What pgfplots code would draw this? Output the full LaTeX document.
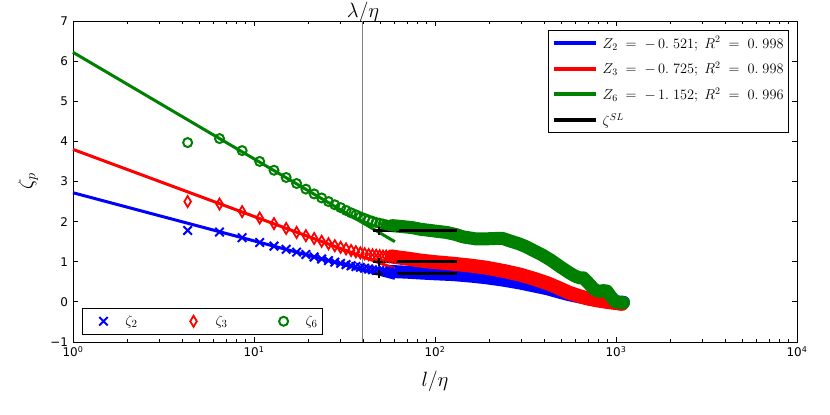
\documentclass[border=0pt]{standalone}
\usepackage{fontspec}
\setmainfont{DejaVu Sans}
\usepackage{pgfplots}
\usepackage{pgfplotstable}
\pgfplotsset{compat=1.18}
\definecolor{mplgreen}{rgb}{0,0.5,0}

\pgfplotstableread{
l z2 z3 z6
4.3   1.78 2.50 3.97
6.45  1.74 2.44 4.07
8.6   1.60 2.25 3.77
10.75 1.48 2.09 3.50
12.9  1.39 1.95 3.28
15.05 1.31 1.83 3.10
17.2  1.24 1.73 2.95
19.35 1.18 1.65 2.81
21.5  1.12 1.58 2.69
23.65 1.07 1.51 2.59
25.8  1.03 1.45 2.50
27.95 0.99 1.40 2.42
30.1  0.96 1.36 2.35
32.25 0.93 1.32 2.28
34.4  0.90 1.28 2.22
36.55 0.88 1.25 2.17
38.7  0.86 1.22 2.12
40.85 0.84 1.20 2.08
43.0  0.82 1.18 2.04
45.15 0.80 1.17 2.01
47.3  0.79 1.16 1.98
49.45 0.78 1.15 1.96
51.6  0.77 1.14 1.94
53.75 0.76 1.14 1.92
55.9  0.75 1.13 1.90
58.05 0.74 1.13 1.89
60.2  0.73 1.12 1.88
}\markers

\pgfplotstableread{
l z
58 0.76
62 0.75
70 0.74
83 0.72
100 0.70
126 0.68
160 0.64
193 0.60
240 0.54
295 0.47
350 0.40
415 0.33
480 0.25
550 0.18
620 0.13
690 0.09
780 0.05
890 0.02
1000 0.00
1100 -0.01
}\bandtwo

\pgfplotstableread{
l z
58 1.13
62 1.11
70 1.08
83 1.03
100 0.99
126 0.95
160 0.90
193 0.85
240 0.77
295 0.68
350 0.58
415 0.47
480 0.35
550 0.23
620 0.15
690 0.09
780 0.04
890 0.00
1000 -0.03
1080 -0.05
}\bandthree

\pgfplotstableread{
l z
58 1.90
65 1.88
75 1.85
83 1.81
94 1.78
102 1.76
116 1.73
130 1.68
143 1.62
168 1.57
190 1.57
215 1.58
237 1.58
259 1.52
290 1.45
317 1.38
350 1.28
391 1.17
440 1.03
490 0.88
550 0.73
595 0.64
630 0.60
660 0.60
700 0.48
755 0.32
800 0.26
850 0.28
890 0.27
930 0.15
990 0.01
1050 -0.02
1100 -0.02
}\bandsix

\begin{document}
\begin{tikzpicture}
\begin{axis}[
  at={(73bp,73bp)}, anchor=south west,
  scale only axis, width=724bp, height=321bp,
  xmode=log, xmin=1, xmax=10000, ymin=-1, ymax=7,
  clip=false,
  xtick={1,10,100,1000,10000},
  xticklabels={10\textsuperscript{0},10\textsuperscript{1},10\textsuperscript{2},10\textsuperscript{3},10\textsuperscript{4}},
  minor xtick={2,3,4,5,6,7,8,9,20,30,40,50,60,70,80,90,200,300,400,500,600,700,800,900,2000,3000,4000,5000,6000,7000,8000,9000},
  ytick={-1,0,1,2,3,4,5,6,7},
  yticklabels={−1,0,1,2,3,4,5,6,7},
  tick align=inside,
  major tick length=5bp, minor tick length=3bp,
  every tick/.style={black, line width=0.8bp},
  axis line style={line width=1bp},
  tick label style={font=\fontsize{12}{14}\selectfont},
  yticklabel style={xshift=-1.5bp},
  xticklabel style={yshift=-1bp},
  xlabel={$l/\eta$}, ylabel={$\zeta_p$},
  xlabel style={font=\fontsize{22}{26}\selectfont, at={(axis description cs:0.5,-0.1215)}, anchor=center},
  ylabel style={font=\fontsize{20}{24}\selectfont, at={(axis description cs:-0.062,0.5)}, anchor=center},
  legend style={at={(axis description cs:0.989,0.972)}, anchor=north east,
    draw=black, line width=1bp, fill=white,
    font=\fontsize{14}{17}\selectfont, row sep=8.5bp, inner ysep=4bp},
  legend cell align=left,
  legend image code/.code={\draw[#1, line width=4bp] (0bp,0bp) -- (42bp,0bp);
     \pgfpathrectangle{\pgfpoint{0bp}{-2bp}}{\pgfpoint{47bp}{4bp}}\pgfusepath{use as bounding box}},
]
% vertical line
\addplot[gray, line width=1bp, forget plot] coordinates {(40,-1) (40,7)};
\node[anchor=base, font=\fontsize{21}{25}\selectfont] at (axis cs:40,7) [yshift=3.5bp] {$\lambda/\eta$};

% zeta_2
\addplot[only marks, blue, mark=x, mark size=6bp, line width=2bp, forget plot] table[x=l, y=z2] {\markers};
\addplot[blue, line width=13bp, line cap=round, line join=round, forget plot] table[x=l, y=z] {\bandtwo};
% zeta_3
\addplot[only marks, red, mark=diamond, mark size=5.5bp, line width=1.8bp, mark options={xscale=0.8}, forget plot] table[x=l, y=z3] {\markers};
\addplot[red, line width=14bp, line cap=round, line join=round, forget plot] table[x=l, y=z] {\bandthree};
% zeta_6
\addplot[only marks, mplgreen, mark=o, mark size=4.5bp, line width=2bp, forget plot] table[x=l, y=z6] {\markers};
\addplot[mplgreen, line width=13bp, line cap=round, line join=round, forget plot] table[x=l, y=z] {\bandsix};

% fits
\addplot[blue, line width=3bp] coordinates {(1,2.72) (60,0.587)};
\addlegendentry{$Z_2\;=\;{-}\,0.\;521;\;R^2\;=\;0.\;998$}
\addplot[red, line width=3bp] coordinates {(1,3.80) (60,0.83)};
\addlegendentry{$Z_3\;=\;{-}\,0.\;725;\;R^2\;=\;0.\;998$}
\addplot[mplgreen, line width=3bp] coordinates {(1,6.22) (60,1.50)};
\addlegendentry{$Z_6\;=\;{-}\,1.\;152;\;R^2\;=\;0.\;996$}

% She-Leveque
\addplot[black, line width=3bp] coordinates {(45.5,0.696) (133,0.696)};
\addlegendentry{$\zeta^{SL}$}
\addplot[black, line width=3bp, forget plot] coordinates {(45.5,1.0) (133,1.0)};
\addplot[black, line width=3bp, forget plot] coordinates {(45.5,1.778) (133,1.778)};
\addplot[only marks, black, mark=+, mark size=4bp, line width=1.5bp, forget plot] coordinates {(49,0.696) (49,1.0) (49,1.778)};
\end{axis}

\begin{axis}[
  at={(73bp,73bp)}, anchor=south west,
  scale only axis, width=724bp, height=321bp,
  hide axis, xmin=0, xmax=1, ymin=0, ymax=1,
  legend columns=3,
  legend style={at={(axis description cs:0.0124,0.0218)}, anchor=south west,
    draw=black, line width=1bp, fill=white,
    font=\fontsize{15}{18}\selectfont, inner ysep=5.5bp,
    /tikz/every even column/.append style={column sep=36bp}},
  legend image code/.code={\draw[#1] plot coordinates {(18bp,0bp)};
     \pgfpathrectangle{\pgfpoint{0bp}{-6bp}}{\pgfpoint{38bp}{12bp}}\pgfusepath{use as bounding box}},
]
\addplot[draw=none, forget plot] coordinates {(0.5,0.5)};
\addlegendimage{only marks, blue, mark=x, mark size=6bp, line width=2bp}
\addlegendentry{$\zeta_2$}
\addlegendimage{only marks, red, mark=diamond, mark size=5.5bp, line width=1.8bp, mark options={xscale=0.8}}
\addlegendentry{$\zeta_3$}
\addlegendimage{only marks, mplgreen, mark=o, mark size=4.5bp, line width=2bp}
\addlegendentry{$\zeta_6$}
\end{axis}
\pgfresetboundingbox
\path[use as bounding box] (0,0) rectangle (830bp,415bp);
\end{tikzpicture}
\end{document}
